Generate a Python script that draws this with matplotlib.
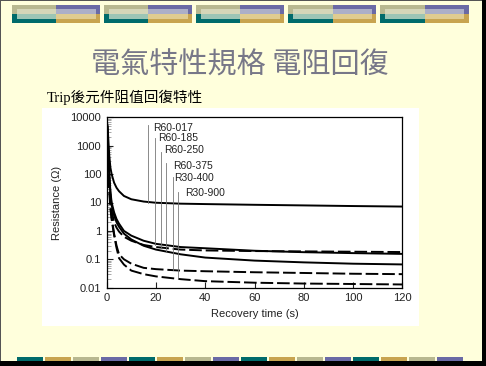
import matplotlib.pyplot as plt
from matplotlib.patches import Rectangle

W, H = 486, 366

# recovery time (s) sample points
t = [0.2, 0.5, 1, 1.5, 2, 3, 4, 5, 7, 10, 15, 20, 30, 40, 60, 80, 100, 120]
r60_017 = [6000, 3000, 500, 170, 100, 50, 33, 25, 17, 13, 10.8, 9.8, 9.1, 8.8, 8.3, 7.9, 7.5, 7.2]
r60_185 = [5000, 1200, 120, 25, 10, 4.5, 2.6, 1.8, 1.0, 0.68, 0.45, 0.35, 0.27, 0.245, 0.2, 0.178, 0.165, 0.155]
r60_250 = [5000, 800, 60, 12, 5, 2.0, 1.3, 0.95, 0.62, 0.45, 0.32, 0.27, 0.22, 0.205, 0.195, 0.19, 0.185, 0.18]
r60_375 = [5000, 1000, 100, 20, 8, 3.5, 2.0, 1.4, 0.8, 0.5, 0.3, 0.22, 0.15, 0.115, 0.09, 0.078, 0.07, 0.066]
r30_400 = [5000, 500, 40, 8, 3, 0.8, 0.3, 0.15, 0.1, 0.07, 0.05, 0.045, 0.04, 0.038, 0.035, 0.033, 0.031, 0.030]
r30_900 = [5000, 400, 30, 6, 2.5, 0.7, 0.25, 0.11, 0.065, 0.04, 0.03, 0.025, 0.02, 0.017, 0.015, 0.014, 0.0135, 0.013]

series = [r60_017, r60_185, r60_250, r60_375, r30_400, r30_900]
dashed = [False, False, True, False, True, True]

# part number labels and their leader lines
labels = ['R60-017', 'R60-185', 'R60-250', 'R60-375', 'R30-400', 'R30-900']
label_t = [18.9, 21.0, 23.3, 27.1, 27.3, 31.9]
label_r = [4070, 1820, 703, 193, 74, 21]
lead_t = [16.9, 19.8, 21.9, 24.1, 26.8, 29.1]
lead_top = [5370, 1820, 616, 240, 81, 24]
lead_bot = [9.5, 0.32, 0.28, 0.20, 0.042, 0.020]

xticks = [0, 20, 40, 60, 80, 100, 120]
yticks = [0.01, 0.1, 1, 10, 100, 1000, 10000]
ytick_labels = ['0.01', '0.1', '1', '10', '100', '1000', '10000']

teal, gold, khaki, purple = '#006b6b', '#c8a450', '#b8b890', '#6a6aa5'


def box(fig, x, y, w, h, color, z=0):
    # rectangle given in image pixels (top-left origin)
    fig.add_artist(Rectangle((x / W, 1 - (y + h) / H), w / W, h / H,
                             transform=fig.transFigure, facecolor=color,
                             edgecolor='none', zorder=z))


fig = plt.figure(figsize=(W / 100, H / 100), dpi=100)
fig.patch.set_facecolor('#ffffdc')

# slide border / shadow
box(fig, 0, 0, 1, H, '#555555')
box(fig, 0, 0, W, 1, '#555555')
box(fig, 481.5, 0, 5, H, 'black')
box(fig, 0, 361, W, 5, 'black')

# top banner blocks
for i in range(5):
    x0 = 11.5 + 92.2 * i
    box(fig, x0, 4.7, 44.5, 4.6, khaki)
    box(fig, x0, 9.3, 44.5, 4.7, '#d5d6b8')
    box(fig, x0, 9.3, 5, 4.7, khaki)
    box(fig, x0, 14, 44.5, 4.7, '#9cc5b5')
    box(fig, x0, 14, 5, 4.7, teal)
    box(fig, x0, 18.7, 44.5, 4.6, teal)
    box(fig, x0 + 44.5, 4.7, 43.8, 4.6, purple)
    box(fig, x0 + 44.5, 9.3, 43.8, 4.7, '#acafc8')
    box(fig, x0 + 84, 9.3, 4.3, 4.7, purple)
    box(fig, x0 + 44.5, 14, 43.8, 4.7, '#e0cc90')
    box(fig, x0 + 84, 14, 4.3, 4.7, gold)
    box(fig, x0 + 44.5, 18.7, 43.8, 4.6, gold)

# bottom banner
for i in range(4):
    for j, c in enumerate([teal, gold, khaki, purple]):
        box(fig, 16.7 + 112 * i + 28 * j, 357, 26.5, 4, c)

fig.text(240 / W, 1 - 66 / H, '電氣特性規格 電阻回復', fontsize=21,
         color='#777788', ha='center', va='center',
         family=['Noto Sans CJK TC', 'DejaVu Sans'], fontweight='light')
fig.text(47 / W, 1 - 97 / H, 'Trip後元件阻值回復特性', fontsize=10.5,
         color='black', ha='left', va='center',
         family=['Liberation Serif', 'Noto Sans CJK TC'])

# white panel behind the chart
box(fig, 42, 108, 377, 218, 'white', z=0.5)

ax = fig.add_axes([106.7 / W, 1 - 287.7 / H, 295.6 / W, 170.4 / H])
ax.set_zorder(2)
ax.set_facecolor('white')
ax.set_yscale('log')
ax.set_xlim(0, 120)
ax.set_ylim(0.01, 10000)

for vals, d in zip(series, dashed):
    ls = (0, (6.5, 2)) if d else '-'
    ax.plot(t, vals, color='black', lw=1.4, linestyle=ls)

for lt, top, bot in zip(lead_t, lead_top, lead_bot):
    ax.plot([lt, lt], [bot, top], color='#777777', lw=0.6)

for lab, lx, ly in zip(labels, label_t, label_r):
    ax.text(lx, ly, lab, fontsize=7.5, family='Liberation Sans',
            ha='left', va='center', color='#222222')

ax.set_xticks(xticks)
ax.set_yticks(yticks)
ax.set_yticklabels(ytick_labels)
ax.tick_params(which='major', direction='in', length=4, width=0.8,
               labelsize=8, pad=4, colors='#222222')
ax.tick_params(which='minor', direction='in', length=3, width=0.6,
               color='#999999')
for lab in ax.get_xticklabels() + ax.get_yticklabels():
    lab.set_family('Liberation Sans')
for sp in ax.spines.values():
    sp.set_linewidth(0.9)

ax.set_xlabel('Recovery time (s)', fontsize=8, family='Liberation Sans',
              labelpad=4, color='#222222')
ax.set_ylabel('Resistance (Ω)', fontsize=8, family='Liberation Sans',
              labelpad=6, color='#222222')

fig.savefig('out.png', dpi=100)
